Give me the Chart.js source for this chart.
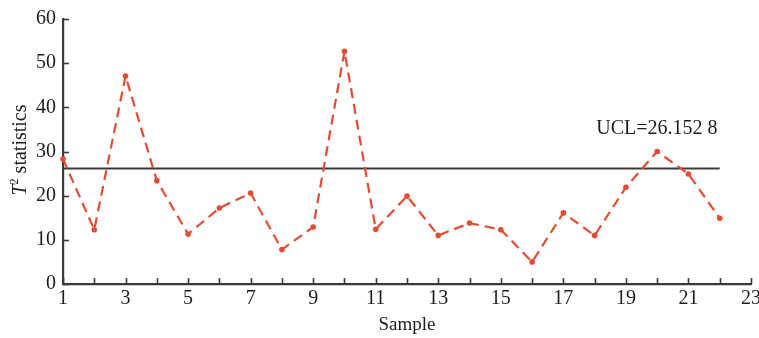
<!DOCTYPE html>
<html>
<head>
<meta charset="utf-8">
<script src="https://cdn.jsdelivr.net/npm/chart.js@4/dist/chart.umd.min.js"></script>
<style>
  html, body { margin: 0; padding: 0; background: #fff; }
  #wrap { width: 759px; height: 338px; position: relative; }
</style>
</head>
<body>
<div id="wrap"><canvas id="c" width="759" height="338"></canvas></div>
<script>
// T^2 control chart: 22 samples vs. UCL
const samples = [1, 2, 3, 4, 5, 6, 7, 8, 9, 10, 11, 12, 13, 14, 15, 16, 17, 18, 19, 20, 21, 22];
const t2Values = [28.3, 12.3, 47.1, 23.4, 11.3, 17.2, 20.6, 7.8, 12.9, 52.7, 12.4, 19.9,
  11.0, 13.8, 12.3, 5.0, 16.1, 11.0, 21.9, 30.0, 24.9, 14.9];
const uclValue = 26.1528;
const uclSpan = [1, 22];
const uclLabel = 'UCL=26.152 8';

const serif = '"Liberation Serif", "Times New Roman", serif';
const ink = '#1c1c1c';
const axisInk = '#3a3a3a';
const red = '#e34b33';

// inward tick marks + rotated y title (italic T, superscript 2) + UCL label
const decor = {
  id: 'decor',
  afterDraw(chart) {
    const { ctx, scales: { x, y } } = chart;
    ctx.save();
    ctx.strokeStyle = axisInk;
    ctx.lineWidth = 1.6;
    x.ticks.forEach((t) => {
      const px = Math.round(x.getPixelForValue(t.value)) + 0.5;
      ctx.beginPath(); ctx.moveTo(px, y.bottom); ctx.lineTo(px, y.bottom - 6); ctx.stroke();
    });
    y.ticks.forEach((t) => {
      const py = Math.round(y.getPixelForValue(t.value)) + 0.5;
      ctx.beginPath(); ctx.moveTo(x.left, py); ctx.lineTo(x.left + 6, py); ctx.stroke();
    });

    // y title
    ctx.fillStyle = ink;
    ctx.translate(21, 150);
    ctx.rotate(-Math.PI / 2);
    ctx.textBaseline = 'middle';
    const fT = 'italic 20px ' + serif, fS = '12px ' + serif, fR = '20px ' + serif;
    const rest = ' statistics';
    ctx.font = fT; const wT = ctx.measureText('T').width;
    ctx.font = fS; const wS = ctx.measureText('2').width;
    ctx.font = fR; const wR = ctx.measureText(rest).width;
    let cx = -(wT + wS + wR) / 2;
    ctx.textAlign = 'left';
    ctx.font = fT; ctx.fillText('T', cx, 0); cx += wT;
    ctx.font = fS; ctx.fillText('2', cx, -6); cx += wS;
    ctx.font = fR; ctx.fillText(rest, cx, 0);
    ctx.restore();

    // UCL label, anchored above the line near the right end
    ctx.save();
    ctx.fillStyle = ink;
    ctx.font = '20px ' + serif;
    ctx.textAlign = 'left';
    ctx.textBaseline = 'alphabetic';
    ctx.fillText(uclLabel, x.getPixelForValue(18.05), y.getPixelForValue(uclValue) - 34);
    ctx.restore();
  },
};

new Chart(document.getElementById('c'), {
  type: 'line',
  data: {
    datasets: [
      {
        label: 'T2',
        data: samples.map((s, i) => ({ x: s, y: t2Values[i] })),
        borderColor: red, backgroundColor: red,
        borderWidth: 2.2, borderDash: [10, 6],
        pointRadius: 2.8, pointHoverRadius: 2.8, pointBorderWidth: 0,
        tension: 0, clip: false,
      },
      {
        label: 'UCL',
        data: uclSpan.map((s) => ({ x: s, y: uclValue })),
        borderColor: '#3a3a3a', borderWidth: 2.2, pointRadius: 0, tension: 0,
      },
    ],
  },
  options: {
    responsive: false, animation: false,
    layout: { padding: { left: 0, top: 17, right: 8, bottom: 0 } },
    plugins: { legend: { display: false }, tooltip: { enabled: false } },
    scales: {
      x: {
        type: 'linear', min: 1, max: 23,
        grid: { display: false, drawTicks: false },
        border: { display: true, color: axisInk, width: 2.2 },
        ticks: {
          stepSize: 1, autoSkip: false, maxRotation: 0, padding: 3,
          color: ink, font: { family: serif, size: 20 },
          callback: (v) => (v % 2 === 1 ? String(v) : ''),
        },
        title: { display: true, text: 'Sample', color: ink, font: { family: serif, size: 19 }, padding: { top: 0, bottom: 2 } },
        afterFit: (s) => { s.height = 54; s.paddingLeft = 0; s.paddingRight = 0; },
      },
      y: {
        min: 0, max: 60,
        grid: { display: false, drawTicks: false },
        border: { display: true, color: axisInk, width: 2.2 },
        ticks: { stepSize: 10, padding: 7, color: ink, font: { family: serif, size: 20 } },
        afterFit: (s) => { s.width = 63; },
      },
    },
  },
  plugins: [decor],
});
</script>
</body>
</html>
